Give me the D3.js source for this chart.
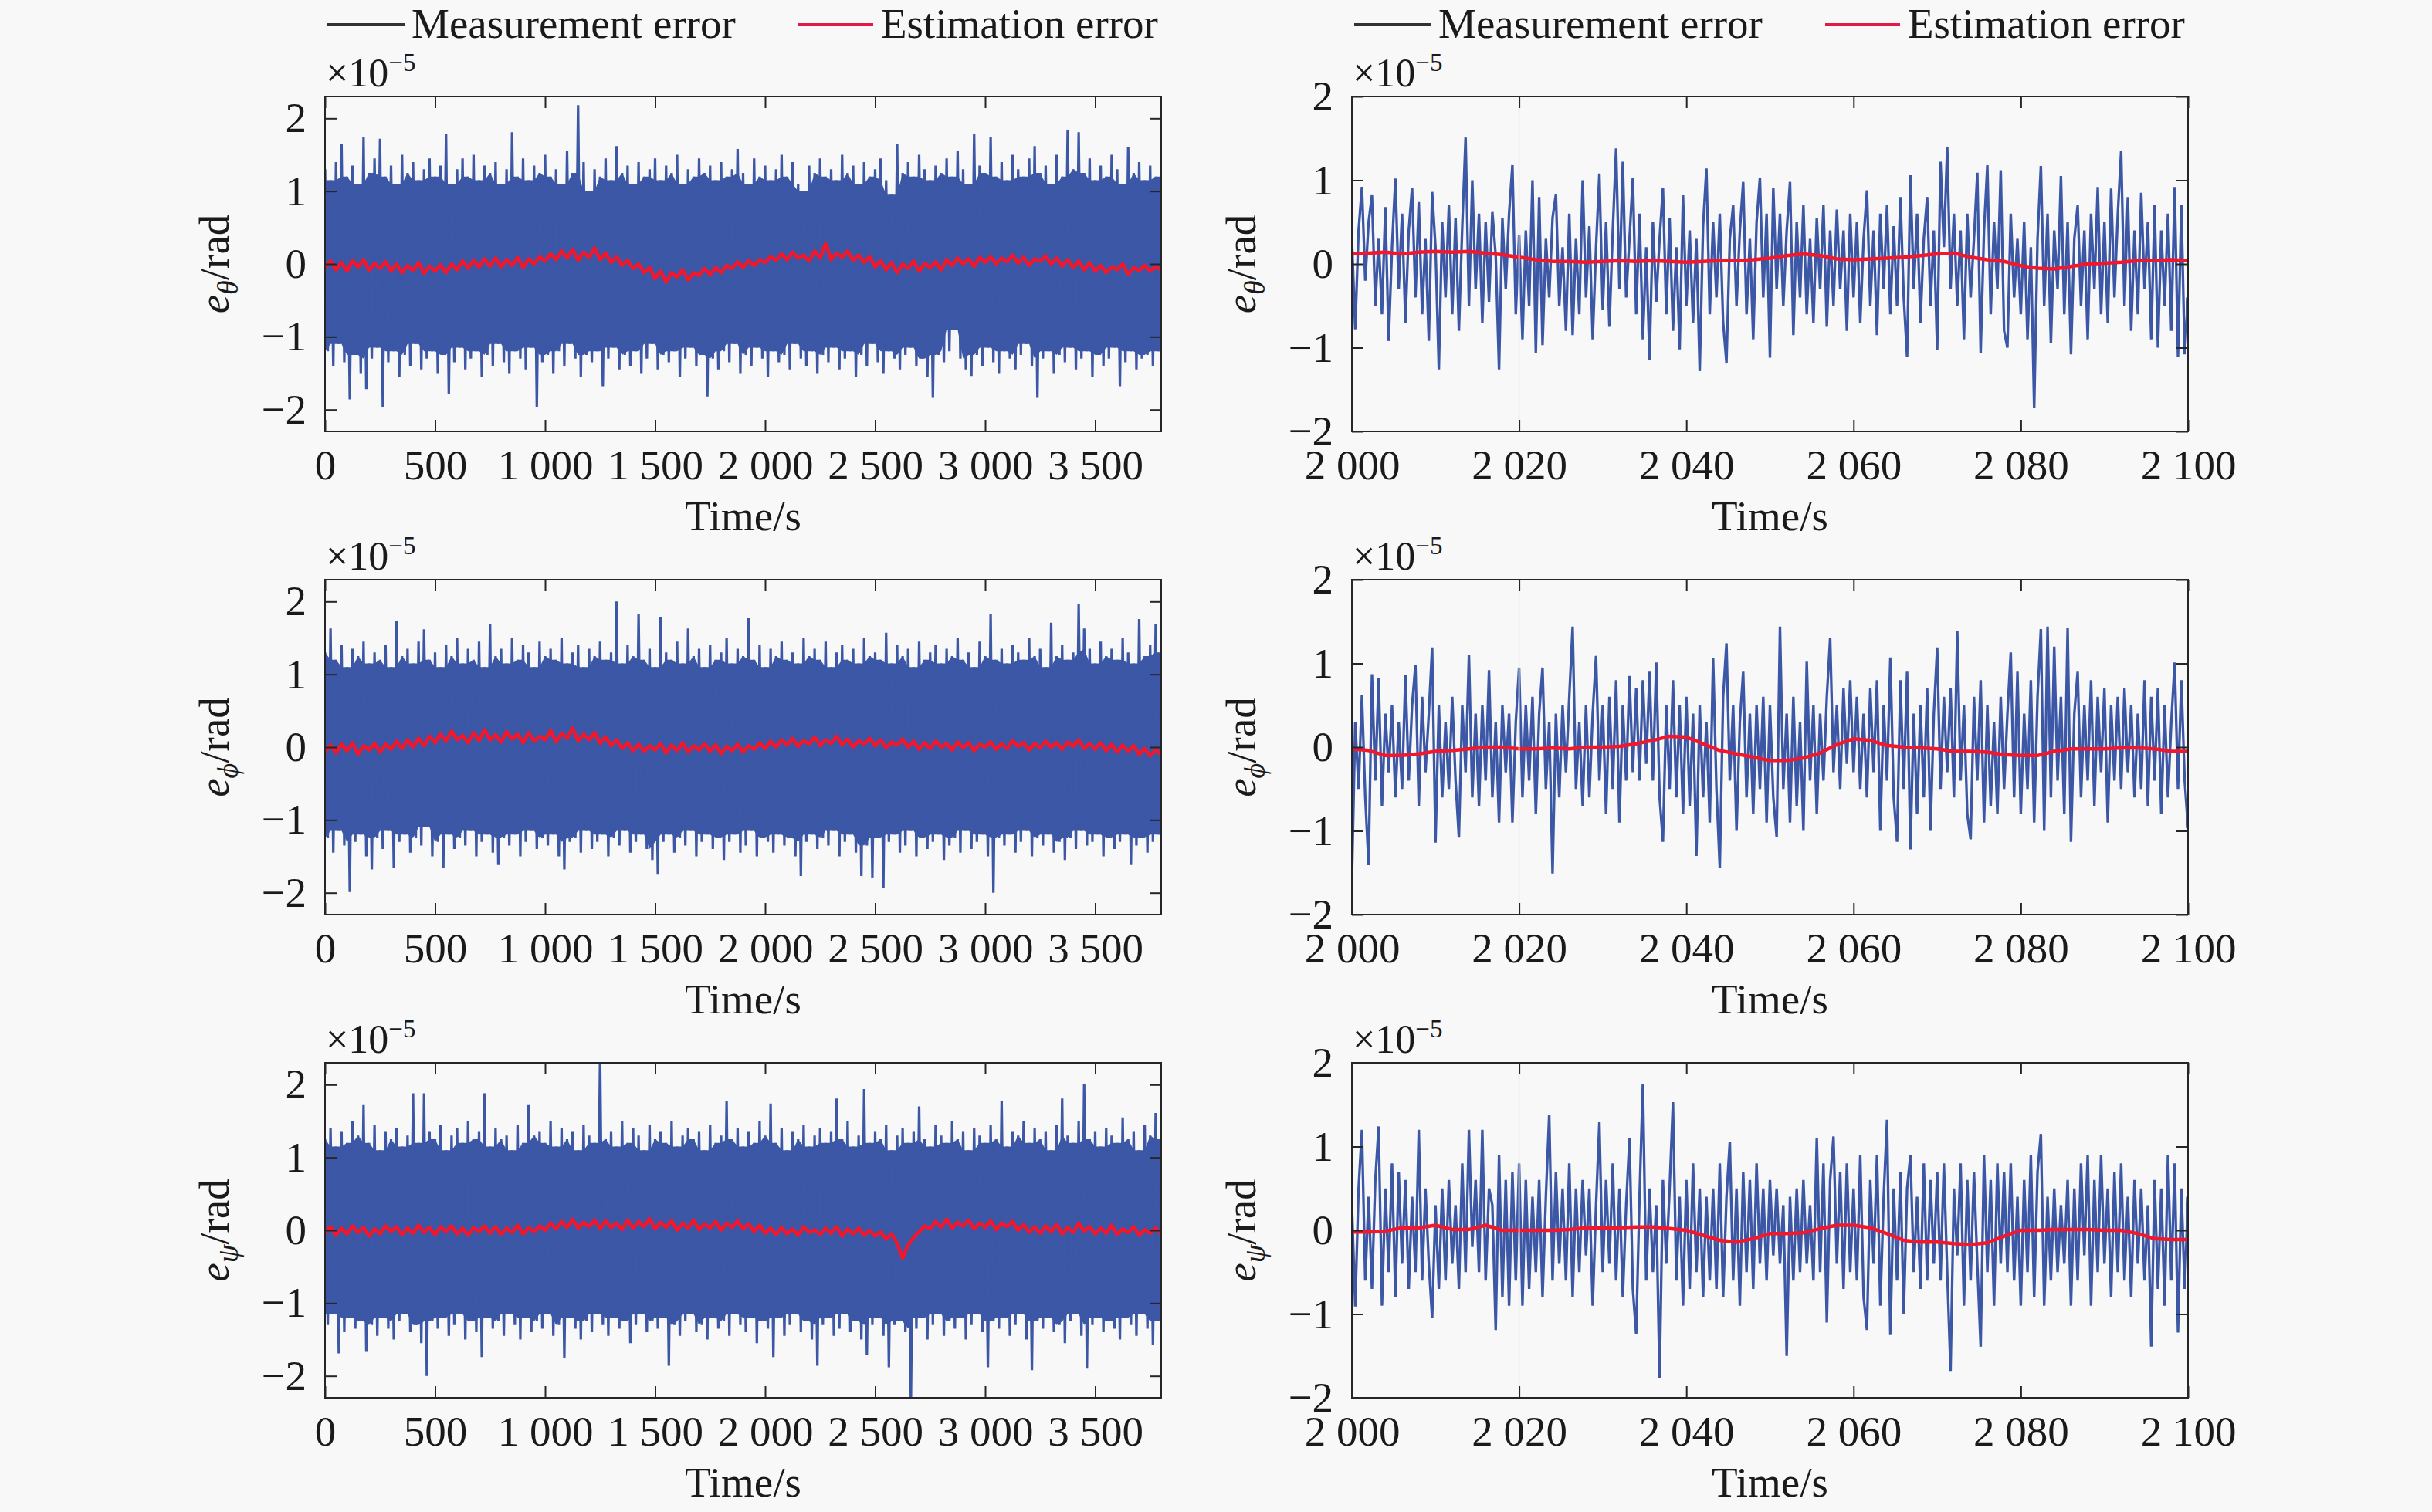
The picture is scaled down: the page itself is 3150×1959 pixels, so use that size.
<!DOCTYPE html>
<html>
<head>
<meta charset="utf-8">
<script src="https://cdn.jsdelivr.net/npm/d3@7"></script>
<style>
  html, body { margin: 0; padding: 0; background: #f8f8f8; }
  svg { display: block; }
</style>
</head>
<body>
<svg id="chart" width="3150" height="1959"></svg>
<script>
// ---- data (units of 1e-5 rad) ----
// long runs: upper / lower envelope of the measurement error every 25 s, estimation error every 25 s
var longStep = 25;
var zoomStep = 0.4;
var zoomEstStep = 2;

var longTicks = [0, 500, 1000, 1500, 2000, 2500, 3000, 3500];
var zoomTicks = [2000, 2020, 2040, 2060, 2080, 2100];
var yTicks = [-2, -1, 0, 1, 2];

var thetaLongHi = [1.3,1.15,1.4,1.65,1.2,1.35,1.1,1.74,1.25,1.45,
  1.72,1.2,1.35,1.1,1.5,1.25,1.4,1.15,1.3,1.45,
  1.2,1.35,1.78,1.1,1.3,1.45,1.2,1.5,1.15,1.35,
  1.25,1.4,1.1,1.3,1.81,1.2,1.45,1.15,1.35,1.25,
  1.5,1.2,1.3,1.1,1.55,1.25,2.18,1.4,1.0,1.3,
  1.2,1.45,1.15,1.62,1.25,1.35,1.1,1.4,1.2,1.3,
  1.45,1.15,1.35,1.25,1.5,1.1,1.3,1.2,1.45,1.25,
  1.35,1.15,1.4,1.2,1.3,1.58,1.25,1.1,1.45,1.2,
  1.35,1.15,1.3,1.5,1.2,1.4,1.1,1.0,1.35,1.25,
  1.45,1.2,1.3,1.15,1.5,1.25,1.35,1.1,1.4,1.2,
  1.3,1.45,1.15,0.95,1.65,1.25,1.4,1.2,1.5,1.3,
  1.15,1.35,1.25,1.45,1.2,1.55,1.3,1.1,1.78,1.35,
  1.25,1.74,1.2,1.4,1.15,1.5,1.3,1.2,1.45,1.62,
  1.25,1.35,1.1,1.5,1.2,1.84,1.3,1.81,1.25,1.45,
  1.15,1.35,1.2,1.5,1.3,1.1,1.6,1.25,1.4,1.15,
  1.35,1.2,1.3];
var thetaLongLo = [-1.2,-1.4,-1.1,-1.35,-1.86,-1.25,-1.5,-1.72,-1.3,-1.15,
  -1.96,-1.35,-1.2,-1.55,-1.25,-1.4,-1.1,-1.45,-1.3,-1.2,
  -1.5,-1.25,-1.78,-1.35,-1.15,-1.45,-1.3,-1.2,-1.55,-1.25,
  -1.4,-1.1,-1.35,-1.5,-1.2,-1.3,-1.45,-1.15,-1.96,-1.35,
  -1.25,-1.5,-1.2,-1.4,-1.1,-1.3,-1.55,-1.25,-1.35,-1.2,
  -1.68,-1.3,-1.15,-1.45,-1.25,-1.4,-1.2,-1.5,-1.3,-1.1,
  -1.45,-1.25,-1.35,-1.2,-1.55,-1.3,-1.15,-1.4,-1.25,-1.82,
  -1.3,-1.45,-1.2,-1.35,-1.1,-1.5,-1.25,-1.4,-1.15,-1.3,
  -1.55,-1.2,-1.35,-1.25,-1.45,-1.1,-1.3,-1.4,-1.2,-1.5,
  -1.25,-1.35,-1.15,-1.45,-1.3,-1.2,-1.55,-1.25,-1.4,-1.1,
  -1.35,-1.5,-1.2,-1.3,-1.45,-1.25,-1.15,-1.4,-1.3,-1.55,
  -1.84,-1.25,-1.35,-1.2,-0.9,-1.3,-1.45,-1.54,-1.25,-1.4,
  -1.15,-1.35,-1.5,-1.2,-1.3,-1.45,-1.25,-1.1,-1.4,-1.84,
  -1.3,-1.2,-1.5,-1.25,-1.35,-1.15,-1.45,-1.3,-1.2,-1.55,
  -1.25,-1.4,-1.3,-1.15,-1.68,-1.35,-1.2,-1.45,-1.3,-1.25,
  -1.4,-1.2,-1.35];
var thetaLongEst = [-0.05,0.04,-0.08,0.02,-0.1,0.05,-0.04,0.06,-0.09,0.01,
  -0.06,0.03,-0.1,0.0,-0.12,-0.02,-0.09,0.02,-0.13,-0.03,
  -0.1,-0.01,-0.12,0.0,-0.08,0.04,-0.06,0.05,-0.04,0.07,
  -0.03,0.08,-0.04,0.06,-0.02,0.09,-0.05,0.07,0.0,0.1,
  0.04,0.14,0.06,0.18,0.08,0.2,0.05,0.16,0.09,0.22,
  0.06,0.15,0.02,0.1,-0.02,0.05,-0.06,0.0,-0.12,-0.05,
  -0.2,-0.1,-0.25,-0.12,-0.18,-0.08,-0.22,-0.12,-0.16,-0.06,
  -0.15,-0.05,-0.12,-0.02,-0.06,0.03,-0.05,0.05,-0.02,0.06,
  0.02,0.1,0.05,0.14,0.06,0.16,0.08,0.12,0.04,0.18,
  0.08,0.28,0.06,0.15,0.09,0.18,0.05,0.12,0.02,0.1,
  -0.04,0.05,-0.08,0.02,-0.12,0.0,-0.06,0.04,-0.1,0.01,
  -0.05,0.03,-0.08,0.06,-0.02,0.08,0.0,0.07,-0.03,0.09,
  0.02,0.1,0.0,0.08,0.03,0.12,0.01,0.09,-0.02,0.07,
  0.04,0.11,0.0,0.08,-0.03,0.06,-0.05,0.04,-0.08,0.02,
  -0.1,-0.02,-0.12,-0.04,-0.08,0.0,-0.14,-0.05,-0.09,-0.02,
  -0.1,-0.04,-0.08];

var phiLongHi = [1.3,1.63,1.2,1.4,1.1,1.35,1.25,1.45,1.15,1.3,
  1.2,1.4,1.1,1.73,1.25,1.35,1.15,1.45,1.62,1.2,
  1.3,1.1,1.4,1.25,1.5,1.15,1.35,1.2,1.45,1.1,
  1.69,1.25,1.35,1.15,1.5,1.2,1.4,1.3,1.1,1.45,
  1.25,1.35,1.2,1.5,1.15,1.3,1.4,1.1,1.35,1.25,
  1.45,1.2,1.3,2.0,1.15,1.4,1.25,1.83,1.2,1.35,
  1.1,1.79,1.3,1.2,1.45,1.15,1.63,1.25,1.35,1.1,
  1.4,1.2,1.3,1.5,1.15,1.35,1.25,1.77,1.2,1.4,
  1.1,1.35,1.25,1.45,1.2,1.3,1.15,1.5,1.25,1.35,
  1.2,1.45,1.1,1.3,1.4,1.2,1.35,1.15,1.5,1.25,
  1.3,1.2,1.57,1.15,1.4,1.25,1.35,1.1,1.45,1.2,
  1.3,1.4,1.15,1.35,1.25,1.5,1.2,1.3,1.1,1.45,
  1.25,1.83,1.2,1.35,1.15,1.4,1.3,1.2,1.5,1.25,
  1.35,1.1,1.71,1.25,1.4,1.2,1.3,1.96,1.63,1.35,
  1.15,1.45,1.25,1.35,1.2,1.5,1.3,1.15,1.76,1.25,
  1.4,1.69,1.3];
var phiLongLo = [-1.25,-1.45,-1.15,-1.35,-1.99,-1.3,-1.2,-1.5,-1.68,-1.25,
  -1.4,-1.15,-1.66,-1.3,-1.2,-1.45,-1.25,-1.35,-1.1,-1.5,
  -1.3,-1.66,-1.2,-1.4,-1.25,-1.35,-1.15,-1.5,-1.3,-1.2,
  -1.45,-1.62,-1.25,-1.35,-1.2,-1.5,-1.3,-1.15,-1.4,-1.25,
  -1.35,-1.2,-1.5,-1.68,-1.3,-1.25,-1.45,-1.15,-1.4,-1.3,
  -1.2,-1.5,-1.25,-1.35,-1.15,-1.45,-1.3,-1.2,-1.4,-1.55,
  -1.75,-1.3,-1.2,-1.45,-1.25,-1.35,-1.15,-1.5,-1.3,-1.2,
  -1.4,-1.25,-1.55,-1.3,-1.2,-1.45,-1.35,-1.15,-1.5,-1.25,
  -1.3,-1.45,-1.2,-1.35,-1.25,-1.5,-1.77,-1.3,-1.2,-1.4,
  -1.25,-1.35,-1.15,-1.5,-1.3,-1.2,-1.45,-1.77,-1.35,-1.79,
  -1.25,-1.93,-1.3,-1.2,-1.45,-1.35,-1.15,-1.5,-1.25,-1.4,
  -1.3,-1.2,-1.55,-1.35,-1.25,-1.45,-1.15,-1.4,-1.3,-1.2,
  -1.5,-2.0,-1.25,-1.35,-1.2,-1.45,-1.3,-1.15,-1.5,-1.25,
  -1.35,-1.2,-1.45,-1.3,-1.55,-1.25,-1.4,-1.15,-1.35,-1.3,
  -1.2,-1.5,-1.25,-1.4,-1.3,-1.2,-1.62,-1.35,-1.25,-1.45,
  -1.3,-1.2,-1.4];
var phiLongEst = [-0.06,0.03,-0.08,0.04,-0.05,0.06,-0.1,0.02,-0.04,0.05,
  -0.07,0.04,-0.03,0.08,-0.02,0.1,0.0,0.12,0.02,0.15,
  0.06,0.18,0.08,0.22,0.1,0.16,0.06,0.2,0.09,0.24,
  0.1,0.17,0.07,0.21,0.11,0.18,0.06,0.2,0.08,0.15,
  0.1,0.23,0.07,0.19,0.12,0.26,0.08,0.18,0.1,0.2,
  0.05,0.14,0.02,0.1,-0.02,0.06,-0.05,0.04,-0.06,0.02,
  -0.04,0.05,-0.08,0.03,-0.05,0.06,-0.07,0.02,-0.04,0.05,
  -0.06,0.03,-0.09,0.01,-0.05,0.04,-0.07,0.02,-0.03,0.06,
  -0.02,0.08,0.0,0.1,0.03,0.12,0.01,0.09,0.04,0.14,
  0.02,0.1,0.05,0.15,0.03,0.11,0.0,0.09,0.04,0.12,
  0.02,0.1,-0.01,0.07,0.03,0.11,0.0,0.08,-0.03,0.06,
  -0.02,0.08,0.0,0.05,-0.04,0.07,-0.01,0.06,-0.05,0.04,
  0.0,0.07,-0.03,0.05,-0.02,0.09,0.01,0.06,-0.04,0.05,
  -0.01,0.08,0.0,0.06,-0.03,0.07,0.01,0.1,-0.02,0.05,
  -0.03,0.06,-0.05,0.04,-0.07,0.03,-0.06,0.02,-0.1,-0.02,
  -0.12,-0.04,-0.1];

var psiLongHi = [1.25,1.4,1.15,1.35,1.2,1.5,1.3,1.72,1.2,1.45,
  1.1,1.35,1.25,1.4,1.15,1.3,1.88,1.2,1.88,1.35,
  1.25,1.45,1.1,1.3,1.4,1.2,1.5,1.25,1.35,1.88,
  1.15,1.4,1.25,1.3,1.1,1.45,1.2,1.72,1.3,1.35,
  1.2,1.5,1.15,1.4,1.25,1.35,1.1,1.45,1.3,1.2,
  2.4,1.25,1.35,1.15,1.5,1.2,1.4,1.3,1.1,1.45,
  1.25,1.35,1.2,1.5,1.15,1.3,1.4,1.25,1.35,1.1,
  1.45,1.2,1.3,1.77,1.25,1.4,1.15,1.35,1.2,1.5,
  1.3,1.74,1.2,1.4,1.1,1.35,1.25,1.45,1.15,1.3,
  1.4,1.2,1.35,1.81,1.25,1.5,1.15,1.3,1.94,1.2,
  1.35,1.25,1.45,1.1,1.3,1.4,1.2,1.35,1.7,1.25,
  1.15,1.45,1.3,1.2,1.5,1.25,1.35,1.1,1.4,1.3,
  1.2,1.45,1.25,1.77,1.15,1.35,1.3,1.5,1.2,1.4,
  1.25,1.35,1.1,1.45,1.81,1.3,1.2,1.5,2.01,1.25,
  1.35,1.15,1.4,1.3,1.2,1.55,1.25,1.35,1.1,1.45,
  1.3,1.61,1.25];
var psiLongLo = [-1.3,-1.15,-1.69,-1.4,-1.2,-1.35,-1.25,-1.67,-1.3,-1.45,
  -1.2,-1.35,-1.5,-1.25,-1.15,-1.4,-1.3,-1.55,-2.0,-1.25,
  -1.35,-1.2,-1.45,-1.3,-1.15,-1.5,-1.25,-1.4,-1.74,-1.2,
  -1.35,-1.25,-1.45,-1.15,-1.3,-1.5,-1.2,-1.4,-1.25,-1.35,
  -1.15,-1.45,-1.3,-1.76,-1.2,-1.35,-1.5,-1.25,-1.4,-1.15,
  -1.3,-1.45,-1.2,-1.35,-1.25,-1.55,-1.3,-1.15,-1.4,-1.25,
  -1.35,-1.2,-1.86,-1.3,-1.45,-1.25,-1.15,-1.4,-1.3,-1.5,
  -1.2,-1.35,-1.25,-1.45,-1.15,-1.3,-1.4,-1.2,-1.55,-1.25,
  -1.35,-1.74,-1.2,-1.45,-1.3,-1.15,-1.4,-1.25,-1.5,-1.86,
  -1.3,-1.2,-1.45,-1.35,-1.15,-1.4,-1.25,-1.5,-1.71,-1.3,
  -1.2,-1.45,-1.88,-1.3,-1.25,-1.4,-2.4,-1.35,-1.2,-1.5,
  -1.3,-1.15,-1.45,-1.25,-1.35,-1.2,-1.5,-1.3,-1.15,-1.4,
  -1.88,-1.25,-1.35,-1.2,-1.45,-1.3,-1.15,-1.5,-1.92,-1.25,
  -1.35,-1.2,-1.4,-1.3,-1.55,-1.25,-1.15,-1.45,-1.9,-1.3,
  -1.2,-1.4,-1.25,-1.35,-1.5,-1.2,-1.3,-1.45,-1.15,-1.35,
  -1.58,-1.25,-1.4];
var psiLongEst = [-0.04,0.05,-0.07,0.03,-0.05,0.06,-0.03,0.04,-0.08,0.02,
  -0.05,0.06,-0.02,0.05,-0.06,0.03,-0.04,0.07,-0.03,0.04,
  -0.06,0.05,-0.02,0.06,-0.05,0.03,-0.07,0.04,-0.02,0.06,
  -0.04,0.05,-0.06,0.03,-0.03,0.07,-0.05,0.04,-0.02,0.06,
  0.0,0.1,0.02,0.12,0.04,0.15,0.03,0.11,0.05,0.14,
  0.02,0.13,0.04,0.1,0.01,0.14,0.03,0.12,0.05,0.16,
  0.02,0.11,0.04,0.13,0.0,0.1,0.03,0.14,0.01,0.09,
  0.03,0.12,0.0,0.1,0.04,0.13,0.02,0.09,-0.02,0.07,
  -0.04,0.03,-0.06,0.04,-0.05,0.02,-0.07,0.05,-0.03,0.01,
  -0.06,0.03,-0.04,0.05,-0.08,0.02,-0.05,0.03,-0.07,0.0,
  -0.08,-0.02,-0.12,-0.05,-0.18,-0.38,-0.2,-0.1,-0.02,0.06,
  0.02,0.12,0.04,0.15,0.03,0.11,0.06,0.14,0.02,0.1,
  0.04,0.13,0.01,0.1,0.05,0.12,0.0,0.08,-0.03,0.05,
  -0.04,0.06,-0.02,0.08,-0.05,0.04,-0.03,0.1,-0.01,0.05,
  -0.05,0.03,-0.04,0.07,-0.06,0.02,-0.03,0.05,-0.07,0.01,
  -0.04,0.03,-0.05];

// 2000-2100 s close-ups: measurement every 0.4 s, estimation every 2 s
var thetaZoomMeas = [0.3,-0.78,0.4,0.92,-0.2,0.5,0.82,-0.5,0.3,-0.6,0.68,-0.92,0.2,1.02,-0.3,0.6,-0.7,0.4,0.91,-0.4,0.74,-0.6,0.3,-0.92,0.86,
  0.2,-1.26,0.5,-0.4,0.7,-0.6,0.55,-0.8,0.45,1.51,-0.5,1.0,-0.3,0.6,-0.7,0.5,-0.45,0.62,0.1,-1.26,0.55,-0.3,0.6,1.18,-0.6,
  0.35,-0.9,0.4,-0.5,1.0,-1.06,0.8,-0.97,0.3,-0.4,0.55,0.83,-0.5,0.2,-0.8,0.6,-0.85,0.3,-0.6,1.0,-0.4,0.45,-0.9,0.2,1.08,
  -0.55,0.5,-0.75,0.4,1.38,-0.3,1.22,-0.4,0.3,1.03,-0.6,0.6,-0.9,0.2,-1.15,0.5,-0.45,0.3,0.91,-0.6,0.55,-0.8,0.2,-1.02,0.82,
  -0.5,0.4,-0.7,0.3,-1.28,0.45,1.14,-0.6,0.5,-0.4,0.6,-0.7,-1.18,0.3,0.7,-0.5,0.4,0.98,-0.6,0.3,-0.9,0.5,1.03,-0.4,0.6,
  -1.12,0.91,-0.3,0.6,-0.5,0.4,0.98,-0.85,0.5,-0.4,0.7,-0.6,0.3,-0.7,0.55,-0.3,0.7,-0.75,0.4,-0.5,0.65,-0.3,0.4,-0.8,0.6,
  -0.4,0.5,-0.7,0.3,0.88,-0.5,0.4,-0.85,0.6,-0.3,0.7,-0.6,0.45,-0.5,0.8,-0.4,-1.11,1.06,-0.3,0.6,-0.7,0.3,0.8,-0.5,0.4,
  -1.03,1.22,0.2,1.4,-0.3,0.6,-0.5,0.4,-0.9,0.6,-0.4,0.3,1.09,-1.06,0.4,1.18,-0.6,0.5,-0.3,1.12,-0.8,-1.0,0.6,-0.4,0.3,
  -0.6,0.5,-0.9,0.2,-1.72,0.3,1.17,-0.5,0.6,-0.95,0.4,-0.3,1.05,-0.6,0.5,-1.08,0.3,0.7,-0.5,0.4,-0.9,0.6,-0.3,0.92,-0.6,
  0.5,-0.7,0.9,-0.4,0.6,1.35,-0.5,0.8,-0.8,0.4,-0.6,0.85,-0.3,0.5,-0.9,0.7,-1.0,0.4,-0.5,0.6,-0.8,0.92,-1.11,0.7,-1.08,
  -0.4];
var thetaZoomEst = [0.12,0.13,0.14,0.12,0.14,0.15,0.14,0.15,0.13,0.11,
  0.08,0.05,0.03,0.03,0.02,0.03,0.04,0.03,0.04,0.03,
  0.02,0.03,0.04,0.04,0.05,0.07,0.1,0.12,0.1,0.06,
  0.05,0.06,0.07,0.08,0.1,0.12,0.13,0.08,0.05,0.03,
  -0.02,-0.05,-0.06,-0.03,0.0,0.01,0.02,0.04,0.04,0.05,
  0.04];

var phiZoomMeas = [-1.6,0.3,-0.5,0.62,-0.6,-1.41,0.87,-0.4,0.82,-0.7,0.4,-0.3,0.5,-0.6,0.3,-0.5,0.86,-0.4,0.5,0.98,-0.7,0.6,-0.3,0.4,1.19,
  -1.14,0.5,-0.6,0.3,-0.5,0.6,-0.4,-1.08,0.5,-0.3,1.1,-0.6,0.4,-0.7,0.5,-0.4,0.92,-0.6,0.3,-0.9,0.5,-0.3,0.4,-0.9,0.3,
  0.95,-0.6,0.5,-0.4,0.6,-0.8,0.4,0.95,-0.5,0.3,-1.51,0.4,-0.6,0.5,-0.3,0.6,1.44,-0.5,0.3,-0.7,0.5,-0.6,0.4,1.09,-0.4,
  0.5,-0.8,0.6,-0.5,0.8,-0.9,0.5,-0.4,0.85,-0.3,0.7,-0.4,0.8,-0.2,0.9,-0.4,1.01,-0.6,-1.13,0.5,-0.5,0.8,-0.6,0.5,-0.8,
  0.6,-0.7,0.4,-1.3,0.5,-0.6,0.3,-0.9,1.06,-0.5,-1.44,0.6,1.24,-0.4,0.5,-1.0,0.3,0.9,-0.6,0.4,-0.8,0.5,-0.5,0.6,-0.9,
  0.5,-0.6,-1.07,1.44,-0.5,0.4,-0.9,0.6,-0.7,0.3,-1.0,1.02,-0.4,0.5,-0.8,0.4,-0.4,0.6,1.3,-0.3,0.5,-0.5,0.7,-0.2,0.8,
  -0.3,0.6,-0.5,0.4,-0.6,0.7,-0.3,0.8,-1.0,0.5,-0.4,1.07,-0.6,-1.13,0.8,-0.5,0.9,-1.22,0.4,-0.8,0.5,-0.6,0.7,-1.0,0.4,
  1.19,-0.5,0.6,-0.3,0.7,-0.6,1.39,-0.4,0.5,-0.8,-1.1,0.6,-0.4,0.8,-0.9,0.5,-0.7,0.3,-0.8,0.6,-0.5,0.4,1.13,-0.6,0.9,
  -0.8,0.4,-0.5,0.8,-0.9,0.6,1.41,-1.0,1.44,-0.6,1.2,-0.4,0.6,-0.8,1.42,-1.13,0.4,0.9,-0.6,0.5,-0.4,0.8,-0.7,0.6,-0.3,
  0.7,-0.9,0.5,-0.4,0.6,-0.5,0.7,-0.3,0.5,-0.6,0.4,-0.5,0.8,-0.7,0.6,-0.4,0.7,-0.8,0.5,-0.6,0.3,1.01,-0.5,0.8,-0.4,
  -0.97];
var phiZoomEst = [-0.02,-0.04,-0.1,-0.1,-0.08,-0.05,-0.04,-0.02,0.0,0.0,
  -0.02,-0.02,-0.01,-0.02,0.0,0.0,0.01,0.04,0.08,0.13,
  0.12,0.04,-0.04,-0.08,-0.12,-0.16,-0.16,-0.13,-0.07,0.03,
  0.1,0.08,0.02,0.0,-0.01,-0.02,-0.05,-0.05,-0.06,-0.09,
  -0.1,-0.1,-0.05,-0.02,-0.02,-0.02,-0.01,-0.01,-0.02,-0.05,
  -0.05];

var psiZoomMeas = [0.3,-0.91,0.5,1.2,-0.6,0.4,-0.7,0.6,1.24,-0.9,0.5,-0.5,0.8,-0.8,0.7,-0.4,0.6,-0.7,0.4,-0.5,1.2,-0.6,0.5,-0.4,-1.05,
  0.3,-0.7,0.5,-0.6,0.6,-0.4,0.3,-0.7,0.8,-0.5,1.2,-0.2,0.6,-0.5,1.2,-0.6,0.5,0.3,-1.19,0.9,-0.8,0.6,-0.9,0.7,-0.6,
  0.8,-0.9,0.6,-0.7,0.4,-0.5,0.6,-0.8,0.4,1.38,-0.6,0.7,-0.4,0.5,-0.6,0.8,-0.8,0.5,-0.5,0.6,-0.3,0.5,-0.9,0.3,1.29,
  -0.5,0.6,-0.4,0.8,-0.6,0.5,-0.8,0.3,1.1,-0.7,-1.24,0.4,1.75,-0.6,0.5,-0.5,0.3,-1.77,0.6,-0.4,0.5,1.53,-0.6,0.4,-0.9,
  0.6,-0.7,0.8,-0.5,0.5,-0.8,0.4,-0.6,0.5,-0.7,0.8,-0.8,0.4,1.06,-0.6,0.5,-0.9,0.7,-0.5,0.6,-0.7,0.8,-0.4,0.5,-0.6,
  0.6,-0.3,0.5,-0.4,0.3,-1.5,0.4,-0.6,0.5,-0.5,0.6,-0.4,0.3,-0.6,1.1,-0.5,0.8,-1.1,0.6,1.12,-0.4,0.7,-0.7,0.8,-0.5,
  0.5,-0.6,0.9,-0.8,-1.19,0.6,-0.4,0.9,-0.9,0.4,1.32,-1.25,0.5,-0.6,0.7,-1.0,0.5,0.9,-0.5,0.4,-0.7,0.8,-0.6,0.6,-0.4,
  0.7,-0.6,0.8,-0.5,-1.68,0.5,-0.3,0.8,-0.9,0.6,-0.6,0.7,-0.4,-1.39,0.9,-0.5,0.6,-0.9,0.8,-0.4,0.7,-0.5,0.8,-0.6,0.4,
  -0.9,0.6,-0.5,0.9,-0.8,0.7,1.15,-0.9,0.4,-0.6,0.5,-0.5,0.3,-0.4,0.6,-0.9,0.5,-0.6,0.8,-0.3,0.9,-0.9,0.6,-0.5,0.9,
  -0.4,0.5,-0.8,0.7,-0.5,0.8,-0.6,0.4,-0.8,0.6,-0.4,0.5,-0.6,0.3,-1.39,0.6,-0.7,0.5,-0.9,0.9,-0.6,0.8,-1.22,0.5,-0.7,
  0.4];
var psiZoomEst = [-0.02,-0.02,-0.01,0.03,0.03,0.06,0.01,0.01,0.06,0.0,
  0.0,0.0,0.0,0.01,0.03,0.03,0.03,0.04,0.04,0.02,
  0.0,-0.06,-0.12,-0.14,-0.1,-0.04,-0.04,-0.03,0.02,0.06,
  0.06,0.03,-0.04,-0.12,-0.14,-0.14,-0.16,-0.17,-0.15,-0.07,
  0.0,0.0,0.01,0.01,0.01,0.0,0.0,-0.04,-0.1,-0.11,
  -0.11];

var symbols = ['θ', 'ϕ', 'ψ'];

// ---- layout ----
var plotW = 1083, plotH = 434;
var colX = [421, 1751];
var rowY = [125, 751, 1377];
var serif = '"Liberation Serif", "Times New Roman", serif';
var axisColor = '#262626';
var textColor = '#1a1a1a';
var blue = '#3b57a6';
var red = '#f3172b';

var rows = [
  { sym: symbols[0], hi: thetaLongHi, lo: thetaLongLo, longEst: thetaLongEst, zoomMeas: thetaZoomMeas, zoomEst: thetaZoomEst },
  { sym: symbols[1], hi: phiLongHi, lo: phiLongLo, longEst: phiLongEst, zoomMeas: phiZoomMeas, zoomEst: phiZoomEst },
  { sym: symbols[2], hi: psiLongHi, lo: psiLongLo, longEst: psiLongEst, zoomMeas: psiZoomMeas, zoomEst: psiZoomEst }
];

var svg = d3.select('#chart');
svg.append('rect').attr('width', 3150).attr('height', 1959).attr('fill', '#f8f8f8');

var spaceFmt = d3.formatLocale({ decimal: '.', thousands: ' ', grouping: [3], currency: ['', ''] }).format(',');

function styleAxis(g) {
  g.attr('font-family', serif).attr('font-size', 55);
  g.select('.domain').remove();
  g.selectAll('.tick line').attr('stroke', axisColor).attr('stroke-width', 2);
  g.selectAll('.tick text').attr('fill', textColor);
}

function drawPanel(col, r, row) {
  var x0 = colX[col], y0 = rowY[r];
  var g = svg.append('g').attr('transform', 'translate(' + x0 + ',' + y0 + ')');
  var isLong = col === 0;

  var x = d3.scaleLinear().domain(isLong ? [0, 3800] : [2000, 2100]).range([0, plotW]);
  var y = d3.scaleLinear().domain(isLong ? [-2.3, 2.3] : [-2, 2]).range([plotH, 0]);
  var xt = isLong ? longTicks : zoomTicks;

  var clipId = 'clip-' + col + '-' + r;
  g.append('clipPath').attr('id', clipId)
    .append('rect').attr('width', plotW).attr('height', plotH);
  var data = g.append('g').attr('clip-path', 'url(#' + clipId + ')');

  var line = d3.line().x(function (d) { return x(d[0]); }).y(function (d) { return y(d[1]); });

  var meas, est;
  if (isLong) {
    // dense core of the band: the lowest neighbouring peak / trough at each sample
    var core = row.hi.map(function (h, i) {
      var top = d3.min([row.hi[i - 1], h, row.hi[i + 1]].filter(function (v) { return v !== undefined; }));
      var bot = d3.max([row.lo[i - 1], row.lo[i], row.lo[i + 1]].filter(function (v) { return v !== undefined; }));
      return [i * longStep, bot, top];
    });
    data.append('path').datum(core)
      .attr('d', d3.area()
        .x(function (d) { return x(d[0]); })
        .y0(function (d) { return y(d[1]); })
        .y1(function (d) { return y(d[2]); }))
      .attr('fill', blue);

    meas = [];
    row.hi.forEach(function (h, i) {
      meas.push([i * longStep, h]);
      meas.push([i * longStep + longStep / 2, row.lo[i]]);
    });
    est = row.longEst.map(function (v, i) { return [i * longStep, v]; });
  } else {
    meas = row.zoomMeas.map(function (v, i) { return [2000 + i * zoomStep, v]; });
    est = row.zoomEst.map(function (v, i) { return [2000 + i * zoomEstStep, v]; });
  }

  data.append('path').datum(meas)
    .attr('d', line).attr('fill', 'none').attr('stroke', blue)
    .attr('stroke-width', isLong ? 3.2 : 3.3).attr('stroke-linejoin', 'bevel');
  data.append('path').datum(est)
    .attr('d', line).attr('fill', 'none').attr('stroke', red)
    .attr('stroke-width', isLong ? 4.5 : 4.5).attr('stroke-linejoin', 'round');

  if (!isLong) {
    data.append('line')
      .attr('x1', x(2020)).attr('x2', x(2020)).attr('y1', 0).attr('y2', plotH)
      .attr('stroke', '#ededed').attr('stroke-width', 2).attr('opacity', 0.75);
  }

  // axes with inward ticks on all four sides
  g.append('g').attr('transform', 'translate(0,' + plotH + ')')
    .call(d3.axisBottom(x).tickValues(xt).tickFormat(spaceFmt).tickSizeInner(-15).tickSizeOuter(0).tickPadding(23))
    .call(styleAxis);
  g.append('g')
    .call(d3.axisTop(x).tickValues(xt).tickFormat('').tickSizeInner(-15).tickSizeOuter(0))
    .call(styleAxis);
  g.append('g')
    .call(d3.axisLeft(y).tickValues(yTicks).tickFormat(d3.format('d')).tickSizeInner(-15).tickSizeOuter(0).tickPadding(24))
    .call(styleAxis);
  g.append('g').attr('transform', 'translate(' + plotW + ',0)')
    .call(d3.axisRight(y).tickValues(yTicks).tickFormat('').tickSizeInner(-15).tickSizeOuter(0))
    .call(styleAxis);

  g.append('rect').attr('width', plotW).attr('height', plotH)
    .attr('fill', 'none').attr('stroke', axisColor).attr('stroke-width', 2);

  // x10^-5 multiplier
  var mult = g.append('text').attr('x', 1).attr('y', -13)
    .attr('font-family', serif).attr('font-size', 52).attr('fill', textColor);
  mult.append('tspan').text('×10');
  mult.append('tspan').attr('font-size', 33).attr('dy', -20).text('−5');

  // axis titles
  g.append('text')
    .attr('x', plotW / 2).attr('y', plotH + 128)
    .attr('text-anchor', 'middle')
    .attr('font-family', serif).attr('font-size', 55).attr('fill', textColor)
    .text('Time/s');

  var yl = g.append('text')
    .attr('transform', 'translate(' + (-125) + ',' + (plotH / 2) + ') rotate(-90)')
    .attr('text-anchor', 'middle')
    .attr('font-family', serif).attr('font-size', 55).attr('fill', textColor);
  yl.append('tspan').attr('font-style', 'italic').text('e');
  yl.append('tspan').attr('font-style', 'italic').attr('font-size', 38).attr('dy', 12).text(row.sym);
  yl.append('tspan').attr('dy', -12).text('/rad');
}

rows.forEach(function (row, r) {
  drawPanel(0, r, row);
  drawPanel(1, r, row);
});

// legends above each column
colX.forEach(function (x0) {
  var lg = svg.append('g').attr('transform', 'translate(' + x0 + ',0)')
    .attr('font-family', serif).attr('font-size', 55).attr('fill', textColor);
  lg.append('line').attr('x1', 3).attr('x2', 103).attr('y1', 32).attr('y2', 32)
    .attr('stroke', '#333333').attr('stroke-width', 4);
  lg.append('text').attr('x', 112).attr('y', 49).text('Measurement error');
  lg.append('line').attr('x1', 613).attr('x2', 710).attr('y1', 32).attr('y2', 32)
    .attr('stroke', '#e31a47').attr('stroke-width', 4);
  lg.append('text').attr('x', 720).attr('y', 49).text('Estimation error');
});
</script>
</body>
</html>
